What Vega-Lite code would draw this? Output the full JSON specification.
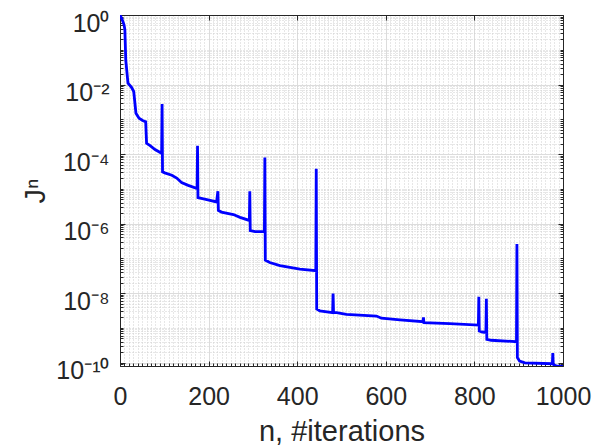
{
  "$schema": "https://vega.github.io/schema/vega-lite/v6.json",
  "width": 443,
  "height": 351,
  "autosize": {"type": "none"},
  "padding": {"left": 120, "top": 15, "right": 30, "bottom": 80},
  "background": "white",
  "config": {
    "view": {"stroke": null},
    "font": "Liberation Sans",
    "axis": {
      "domainColor": "#262626",
      "domainWidth": 1,
      "tickColor": "#262626",
      "tickWidth": 1,
      "labelColor": "#262626",
      "labelFont": "Liberation Sans",
      "labelFontSize": 25,
      "titleFont": "Liberation Sans",
      "titleFontSize": 29,
      "titleFontWeight": "normal",
      "titleColor": "#262626",
      "labelOverlap": false,
      "labelFlush": false,
      "labelBound": false
    }
  },
  "data": {
    "values": [
      {"n": 0, "J": 1},
      {"n": 4, "J": 0.79},
      {"n": 9, "J": 0.53},
      {"n": 11, "J": 0.38},
      {"n": 13, "J": 0.051},
      {"n": 18, "J": 0.011},
      {"n": 26, "J": 0.0083},
      {"n": 31, "J": 0.0063},
      {"n": 36, "J": 0.0015},
      {"n": 43, "J": 0.00107},
      {"n": 52, "J": 0.00091},
      {"n": 58, "J": 0.00085},
      {"n": 60, "J": 0.000204},
      {"n": 68, "J": 0.000174},
      {"n": 79, "J": 0.000135},
      {"n": 94, "J": 0.000105},
      {"n": 95, "J": 0.00275},
      {"n": 96, "J": 3.09e-5},
      {"n": 101, "J": 2.88e-5},
      {"n": 117, "J": 2.45e-5},
      {"n": 128, "J": 2.04e-5},
      {"n": 139, "J": 1.51e-5},
      {"n": 154, "J": 1.26e-5},
      {"n": 174, "J": 1.02e-5},
      {"n": 175, "J": 0.000174},
      {"n": 176, "J": 5.6e-6},
      {"n": 196, "J": 4.9e-6},
      {"n": 218, "J": 4.2e-6},
      {"n": 221, "J": 8.5e-6},
      {"n": 222, "J": 2.4e-6},
      {"n": 229, "J": 2.14e-6},
      {"n": 256, "J": 1.82e-6},
      {"n": 271, "J": 1.51e-6},
      {"n": 292, "J": 1.23e-6},
      {"n": 293, "J": 8.5e-6},
      {"n": 294, "J": 6.3e-7},
      {"n": 305, "J": 5.9e-7},
      {"n": 326, "J": 5.9e-7},
      {"n": 327, "J": 7.9e-5},
      {"n": 328, "J": 8.9e-8},
      {"n": 338, "J": 7.6e-8},
      {"n": 361, "J": 6.2e-8},
      {"n": 406, "J": 4.9e-8},
      {"n": 442, "J": 4.4e-8},
      {"n": 443, "J": 3.8e-5},
      {"n": 444, "J": 3.5e-9},
      {"n": 451, "J": 3.1e-9},
      {"n": 480, "J": 2.75e-9},
      {"n": 481, "J": 9.8e-9},
      {"n": 482, "J": 2.75e-9},
      {"n": 489, "J": 2.75e-9},
      {"n": 511, "J": 2.45e-9},
      {"n": 579, "J": 2.19e-9},
      {"n": 590, "J": 1.9e-9},
      {"n": 632, "J": 1.7e-9},
      {"n": 684, "J": 1.51e-9},
      {"n": 685, "J": 2.0e-9},
      {"n": 686, "J": 1.42e-9},
      {"n": 744, "J": 1.32e-9},
      {"n": 809, "J": 1.2e-9},
      {"n": 810, "J": 7.8e-9},
      {"n": 811, "J": 8.1e-10},
      {"n": 818, "J": 7.6e-10},
      {"n": 826, "J": 7.4e-10},
      {"n": 827, "J": 6.9e-9},
      {"n": 828, "J": 4.7e-10},
      {"n": 838, "J": 4.4e-10},
      {"n": 895, "J": 4.0e-10},
      {"n": 896, "J": 2.6e-7},
      {"n": 897, "J": 1.4e-10},
      {"n": 902, "J": 1.1e-10},
      {"n": 914, "J": 9.8e-11},
      {"n": 976, "J": 9.3e-11},
      {"n": 977, "J": 1.9e-10},
      {"n": 978, "J": 8.9e-11},
      {"n": 985, "J": 8.0e-11},
      {"n": 1000, "J": 7.8e-11}
    ]
  },
  "layer": [
    {
      "mark": {"type": "line", "color": "#0000ff", "strokeWidth": 2.8, "clip": true},
      "encoding": {
        "x": {
          "field": "n", "type": "quantitative",
          "scale": {"domain": [0, 1000], "nice": false, "zero": false},
          "axis": {
            "orient": "bottom",
            "title": "n, #iterations",
            "titlePadding": 6,
            "format": "d",
            "values": [0,10,20,30,40,50,60,70,80,90,100,110,120,130,140,150,160,170,180,190,200,210,220,230,240,250,260,270,280,290,300,310,320,330,340,350,360,370,380,390,400,410,420,430,440,450,460,470,480,490,500,510,520,530,540,550,560,570,580,590,600,610,620,630,640,650,660,670,680,690,700,710,720,730,740,750,760,770,780,790,800,810,820,830,840,850,860,870,880,890,900,910,920,930,940,950,960,970,980,990,1000],
            "labelExpr": "datum.value % 200 == 0 ? datum.label : ''",
            "labelPadding": 23,
            "grid": true,
            "gridColor": {"condition": {"test": "datum.value % 200 == 0", "value": "#dcdcdc"}, "value": "#cfcfcf"},
            "gridDash": {"condition": {"test": "datum.value % 200 == 0", "value": []}, "value": [1, 2]},
            "gridWidth": 1,
            "tickSize": {"condition": {"test": "datum.value % 200 == 0", "value": -5}, "value": -3}
          }
        },
        "y": {
          "field": "J", "type": "quantitative",
          "scale": {"type": "log", "domain": [8e-11, 1], "nice": false},
          "axis": {
            "orient": "left",
            "title": "Jⁿ",
            "titlePadding": 5,
            "values": [8e-11,9e-11,1e-10,2e-10,3e-10,4e-10,5e-10,6e-10,7e-10,8e-10,9e-10,1e-9,2e-9,3e-9,4e-9,5e-9,6e-9,7e-9,8e-9,9e-9,1e-8,2e-8,3e-8,4e-8,5e-8,6e-8,7e-8,8e-8,9e-8,1e-7,2e-7,3e-7,4e-7,5e-7,6e-7,7e-7,8e-7,9e-7,1e-6,2e-6,3e-6,4e-6,5e-6,6e-6,7e-6,8e-6,9e-6,1e-5,2e-5,3e-5,4e-5,5e-5,6e-5,7e-5,8e-5,9e-5,1e-4,2e-4,3e-4,4e-4,5e-4,6e-4,7e-4,8e-4,9e-4,1e-3,2e-3,3e-3,4e-3,5e-3,6e-3,7e-3,8e-3,9e-3,0.01,0.02,0.03,0.04,0.05,0.06,0.07,0.08,0.09,0.1,0.2,0.3,0.4,0.5,0.6,0.7,0.8,0.9,1],
            "labelExpr": "datum.value==1?'10⁰':datum.value==0.01?'10⁻²':datum.value==0.0001?'10⁻⁴':datum.value==1e-6?'10⁻⁶':datum.value==1e-8?'10⁻⁸':datum.value==1e-10?'10⁻¹⁰':''",
            "labelPadding": 16,
            "labelBaseline": "alphabetic",
            "labelOffset": 16,
            "grid": true,
            "gridColor": {"condition": {"test": "datum.value==1||datum.value==0.01||datum.value==0.0001||datum.value==1e-6||datum.value==1e-8||datum.value==1e-10", "value": "#dcdcdc"}, "value": "#cfcfcf"},
            "gridDash": {"condition": {"test": "datum.value==1||datum.value==0.01||datum.value==0.0001||datum.value==1e-6||datum.value==1e-8||datum.value==1e-10", "value": []}, "value": [1, 2]},
            "gridWidth": 1,
            "tickSize": {"condition": {"test": "datum.value==1||datum.value==0.01||datum.value==0.0001||datum.value==1e-6||datum.value==1e-8||datum.value==1e-10", "value": -5}, "value": -3}
          }
        }
      }
    },
    {
      "mark": {"type": "line", "opacity": 0, "clip": true},
      "encoding": {
        "x": {
          "field": "n", "type": "quantitative",
          "axis": {
            "orient": "top",
            "title": null,
            "labels": false,
            "grid": false,
            "values": [0,200,400,600,800,1000],
            "tickSize": -5
          }
        },
        "y": {
          "field": "J", "type": "quantitative",
          "axis": {
            "orient": "right",
            "title": null,
            "labels": false,
            "grid": false,
            "values": [8e-11,9e-11,1e-10,2e-10,3e-10,4e-10,5e-10,6e-10,7e-10,8e-10,9e-10,1e-9,2e-9,3e-9,4e-9,5e-9,6e-9,7e-9,8e-9,9e-9,1e-8,2e-8,3e-8,4e-8,5e-8,6e-8,7e-8,8e-8,9e-8,1e-7,2e-7,3e-7,4e-7,5e-7,6e-7,7e-7,8e-7,9e-7,1e-6,2e-6,3e-6,4e-6,5e-6,6e-6,7e-6,8e-6,9e-6,1e-5,2e-5,3e-5,4e-5,5e-5,6e-5,7e-5,8e-5,9e-5,1e-4,2e-4,3e-4,4e-4,5e-4,6e-4,7e-4,8e-4,9e-4,1e-3,2e-3,3e-3,4e-3,5e-3,6e-3,7e-3,8e-3,9e-3,0.01,0.02,0.03,0.04,0.05,0.06,0.07,0.08,0.09,0.1,0.2,0.3,0.4,0.5,0.6,0.7,0.8,0.9,1],
            "tickSize": {"condition": {"test": "datum.value==1||datum.value==0.01||datum.value==0.0001||datum.value==1e-6||datum.value==1e-8||datum.value==1e-10", "value": -5}, "value": -3}
          }
        }
      }
    }
  ],
  "resolve": {"axis": {"x": "independent", "y": "independent"}}
}
